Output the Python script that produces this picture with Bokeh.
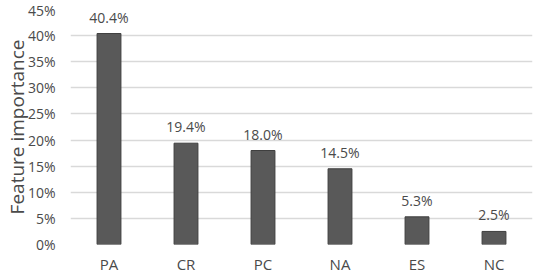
from bokeh.plotting import figure
from bokeh.models import ColumnDataSource, FixedTicker, CustomJSTickFormatter, LabelSet
from bokeh.core.properties import value
from bokeh.embed import file_html
from bokeh.resources import INLINE

categories = ["PA", "CR", "PC", "NA", "ES", "NC"]
importance = [40.4, 19.4, 18.0, 14.5, 5.3, 2.5]
labels = ["40.4%", "19.4%", "18.0%", "14.5%", "5.3%", "2.5%"]
y_ticks = [0, 5, 10, 15, 20, 25, 30, 35, 40, 45]

FONT = "Open Sans"
TXT = "#4a4a4a"

src = ColumnDataSource(dict(cat=categories, val=importance, lab=labels))

p = figure(x_range=categories, y_range=(0, 45), width=536, height=276,
           output_backend="svg", toolbar_location=None,
           min_border_left=10, min_border_right=4, min_border_top=9, min_border_bottom=5)
p.vbar(x="cat", top="val", width=0.31, source=src,
       fill_color="#595959", line_color="#3f3f3f", line_width=1)

p.add_layout(LabelSet(x="cat", y="val", text="lab", source=src, y_offset=7,
                      text_align="center", text_baseline="bottom",
                      text_font=value(FONT), text_font_size="14px", text_color=TXT))

p.yaxis.ticker = FixedTicker(ticks=y_ticks)
p.yaxis.formatter = CustomJSTickFormatter(code="return tick.toFixed(0) + '%';")
p.yaxis.axis_label = "Feature importance"
p.yaxis.axis_label_text_font = FONT
p.yaxis.axis_label_text_font_style = "normal"
p.yaxis.axis_label_text_font_size = "19px"
p.yaxis.axis_label_text_color = TXT
p.yaxis.axis_label_standoff = -5

for ax in (p.xaxis, p.yaxis):
    ax.axis_line_color = None
    ax.major_tick_line_color = None
    ax.minor_tick_line_color = None
    ax.major_tick_out = 0
    ax.major_tick_in = 0
    ax.minor_tick_out = 0
    ax.minor_tick_in = 0
    ax.major_label_text_font = FONT
    ax.major_label_text_color = TXT
p.yaxis.major_label_text_font_size = "14px"
p.xaxis.major_label_text_font_size = "15px"
p.yaxis.major_label_standoff = 15
p.xaxis.major_label_standoff = 9

p.xgrid.grid_line_color = None
p.ygrid.grid_line_color = "#d9d9d9"
p.ygrid.grid_line_width = 1.5
p.outline_line_color = None
p.x_range.range_padding = 0

open("out.html", "w").write(file_html(p, INLINE))
